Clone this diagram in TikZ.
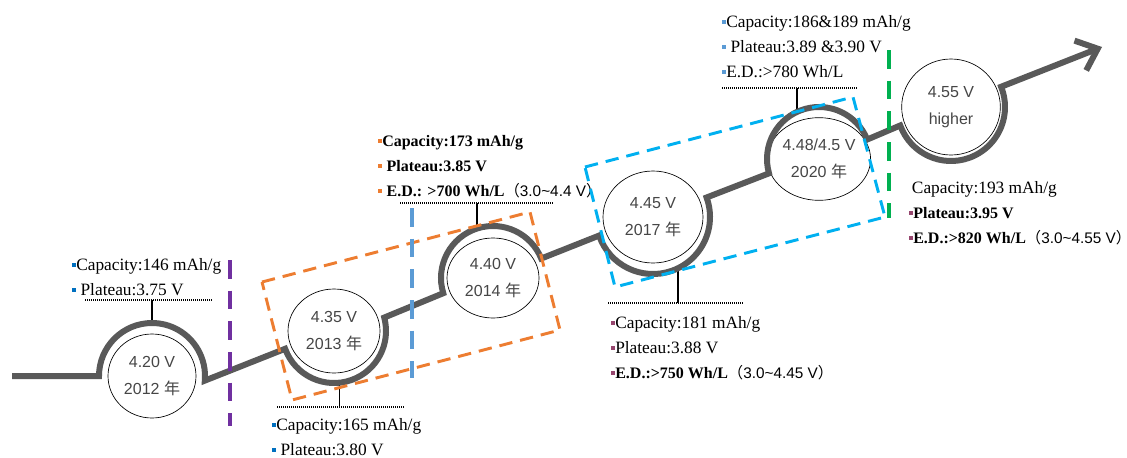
\documentclass[tikz,border=0pt]{standalone}
\usepackage{fontspec}
\setmainfont{Liberation Serif}
\newfontfamily\circleFont{Liberation Sans}
\newfontfamily\cjkFont{Noto Sans CJK SC}
\usepackage{tikz}
\usetikzlibrary{shapes.geometric, arrows.meta}
\tikzstyle{pixelGrid} = [x = 0.75pt, y = -0.75pt]
\definecolor{roadColor}{RGB}{89,89,89}
\definecolor{circleText}{RGB}{70,70,70}
\definecolor{orangeDash}{RGB}{237,125,49}
\definecolor{skyDash}{RGB}{0,176,240}
\definecolor{steelDash}{RGB}{91,155,213}
\definecolor{purpleDash}{RGB}{112,48,160}
\definecolor{greenDash}{RGB}{0,176,80}
\definecolor{bulletBlue}{RGB}{0,112,192}
\definecolor{bulletMauve}{RGB}{150,70,110}
\tikzstyle{road} = [color=roadColor, line width=4.5pt]
\tikzstyle{stepCircleStyle} = [draw, ellipse, fill=white, line width=0.5pt, inner sep=0pt, align=center, text=circleText, font=\circleFont\fontsize{12}{20}\selectfont]
\tikzstyle{infoText} = [anchor=base west, align=left, inner sep=0pt, font=\fontsize{13}{18.75}\selectfont]
\tikzstyle{tickLine} = [black, line width=0.9pt]
\tikzstyle{dotLine} = [black, line width=0.9pt, dash pattern=on 0.75pt off 0.75pt]
\tikzstyle{eraLine} = [line width=3pt, dash pattern=on 14pt off 9pt]
\tikzstyle{groupBox} = [line width=2.2pt, dash pattern=on 10pt off 6pt]
\newcommand{\sq}[1]{\textcolor{#1}{\rule[2.5pt]{3pt}{3pt}}}
\newcommand{\heavy}[1]{{\bfseries\fontsize{12}{18.75}\selectfont #1}}
\newcommand{\nian}{{\cjkFont 年}}
\newcommand{\range}[1]{{\mdseries\fontsize{11.5}{18.75}\selectfont\cjkFont （}{\mdseries\fontsize{11.5}{18.75}\selectfont\circleFont #1}{\mdseries\fontsize{11.5}{18.75}\selectfont\cjkFont\makebox[0.45em][l]{）}}}
\newcommand{\stepCircle}[6]{\node [stepCircleStyle, minimum width=#2pt, minimum height=#3pt] (#1) at (#4) {#5 \\ #6};}

\begin{document}
\begin{tikzpicture}[pixelGrid]
  \useasboundingbox (0,0) rectangle (1127,457);

  % voltage steps
  \stepCircle{n2012}{66}{63}{152,376}{4.20 V}{2012 \nian}
  \stepCircle{n2013}{69}{63}{334,331}{4.35 V}{2013 \nian}
  \stepCircle{n2014}{69}{60}{493,278}{4.40 V}{2014 \nian}
  \stepCircle{n2017}{75}{69}{653,217}{4.45 V}{2017 \nian}
  \stepCircle{n2020}{69}{62}{819,159}{4.48/4.5 V}{2020 \nian}
  \stepCircle{nHigh}{74}{72}{951,107}{4.55 V}{higher}

  % points where the ticks meet the road
  \coordinate (a2012) at ([shift={(-90:53)}]n2012.center);
  \coordinate (a2013) at ([shift={(84:52)}]n2013.center);
  \coordinate (a2014) at ([shift={(-108:52)}]n2014.center);
  \coordinate (a2017) at ([shift={(64:57)}]n2017.center);
  \coordinate (a2020) at ([shift={(-115:52)}]n2020.center);

  % dotted rules and ticks
  \draw [dotLine] (85,300) coordinate (dl2012) -- (212,300);
  \draw [dotLine] (277,407) coordinate (dl2013) -- (405,407);
  \draw [dotLine] (400,203) coordinate (dl2014) -- (553,203);
  \draw [dotLine] (608,303) coordinate (dl2017) -- (743,303);
  \draw [dotLine] (722,88) coordinate (dl2020) -- (858,88);
  \draw [tickLine] (a2012) -- (a2012 |- dl2012);
  \draw [tickLine] (a2013) -- (a2013 |- dl2013);
  \draw [tickLine] (a2014) -- (a2014 |- dl2014);
  \draw [tickLine] (a2017) -- (a2017 |- dl2017);
  \draw [tickLine] (a2020) -- (a2020 |- dl2020);

  % the road
  \draw [road, -{Straight Barb[length=14pt, width=24pt]}]
    (12,376) -- ([shift={(180:53)}]n2012.center) arc [start angle=180, end angle=365, radius=53]
    -- ([shift={(-200:52)}]n2013.center) arc [start angle=-200, end angle=-375, radius=52]
    -- ([shift={(-197:52)}]n2014.center) arc [start angle=-197, end angle=-22, radius=52]
    -- ([shift={(-199:57)}]n2017.center) arc [start angle=-199, end angle=-380, radius=57]
    -- ([shift={(-196:52)}]n2020.center) arc [start angle=-196, end angle=-22, radius=52]
    -- ([shift={(-200:54)}]nHigh.center) arc [start angle=-200, end angle=-382, radius=54]
    -- (1102,47);

  % properties (anchored at the baseline of the last line)
  \node [infoText] (i2012) at (72,295) {\sq{bulletBlue}Capacity:146 mAh/g \\ \sq{bulletBlue} Plateau:3.75 V};
  \node [infoText] (i2013) at (272,455) {\sq{bulletBlue}Capacity:165 mAh/g \\ \sq{bulletBlue} Plateau:3.80 V};
  \node [infoText] (i2014) at (378,196) {\sq{orangeDash}\heavy{Capacity:173 mAh/g} \\ \sq{orangeDash} \heavy{Plateau:3.85 V} \\ \sq{orangeDash} \heavy{E.D.: >700 Wh/L}\range{3.0\textasciitilde 4.4 V}};
  \node [infoText] (i2017) at (611,378) {\sq{bulletMauve}Capacity:181 mAh/g \\ \sq{bulletMauve}Plateau:3.88 V \\ \sq{bulletMauve}\heavy{E.D.:>750 Wh/L}\range{3.0\textasciitilde 4.45 V}};
  \node [infoText] (i2020) at (722,77) {\sq{steelDash}Capacity:186\&189 mAh/g \\ \sq{steelDash} Plateau:3.89 \&3.90 V \\ \sq{steelDash}E.D.:>780 Wh/L};
  \node [infoText] (iHigh) at (909,243) {\hspace{2pt}Capacity:193 mAh/g \\ \sq{bulletMauve}\heavy{Plateau:3.95 V} \\ \sq{bulletMauve}\heavy{E.D.:>820 Wh/L}\range{3.0\textasciitilde 4.55 V}};

  % groups and eras
  \draw [groupBox, orangeDash] (262,282) -- (530,212) -- (560,330) -- (292,400) -- cycle;
  \draw [groupBox, skyDash] (585,167) -- (853,97) -- (885,217) -- (615,287) -- cycle;
  \draw [eraLine, purpleDash] (230,260) -- (230,426);
  \draw [eraLine, steelDash] (412,208) -- (412,378);
  \draw [eraLine, greenDash] (889,50) -- (889,218);
\end{tikzpicture}
\end{document}
